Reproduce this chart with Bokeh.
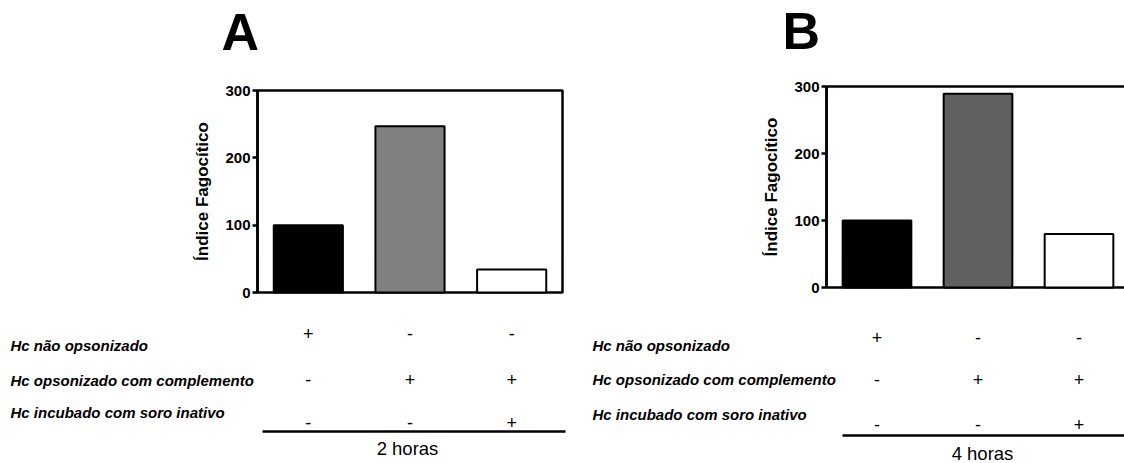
from bokeh.plotting import figure
from bokeh.models import Range1d, FixedTicker, ColumnDataSource, LinearAxis
from bokeh.core.properties import value
from bokeh.layouts import row
from bokeh.embed import file_html
from bokeh.resources import INLINE

# ---- data ----
row_labels = ["Hc não opsonizado", "Hc opsonizado com complemento", "Hc incubado com soro inativo"]
signs = [["+", "-", "-"],
         ["-", "+", "+"],
         ["-", "-", "+"]]
groups = ["G1", "G2", "G3"]
values_2h = [100, 247, 34]
values_4h = [100, 289, 80]
colors_2h = ["#000000", "#808080", "#ffffff"]
colors_4h = ["#000000", "#606060", "#ffffff"]
panel_titles = ["A", "B"]
time_labels = ["2 horas", "4 horas"]
y_ticks = [0, 100, 200, 300]
y_max = 300
y_label = "Índice Fagocítico"

FONT = "Liberation Sans"
H = 463


def make_panel(values, colors, title, time_label, g):
    L, R = g["left_edge"], g["right_edge"]
    W = R - L
    n = len(groups)
    xs = [i + 0.5 for i in range(n)]
    ppx = (g["axis_right_px"] - g["axis_px"]) / n        # pixels per x unit
    ppy = (g["zero_px"] - g["top_px"]) / y_max            # pixels per y unit

    def X(px):
        return (px - g["axis_px"]) / ppx

    def Y(py):
        return (g["zero_px"] - py) / ppy

    p = figure(width=W, height=H, output_backend="svg", toolbar_location=None,
               x_range=Range1d(X(L), X(R)), y_range=Range1d(Y(H), Y(0)),
               x_axis_location=None, y_axis_location=None, min_border=0)
    p.grid.visible = False
    p.outline_line_color = None
    p.background_fill_color = "white"
    p.border_fill_color = "white"

    # plot box
    p.quad(left=[0], right=[n], bottom=[0], top=[y_max], fill_color=None,
           line_color="black", line_width=2.5)

    src = ColumnDataSource(dict(x=xs, top=values, color=colors))
    p.vbar(x="x", top="top", bottom=0, width=0.68, source=src,
           fill_color="color", line_color="black", line_width=2)

    ya = LinearAxis(fixed_location=0, bounds=(0, y_max), ticker=FixedTicker(ticks=y_ticks))
    ya.minor_tick_line_color = None
    ya.major_tick_out = 5
    ya.major_tick_in = 0
    ya.major_tick_line_width = 2.5
    ya.major_tick_line_color = "black"
    ya.axis_line_width = 2.5
    ya.axis_line_color = "black"
    ya.major_label_text_font = FONT
    ya.major_label_text_font_style = "bold"
    ya.major_label_text_font_size = "15px"
    ya.major_label_text_color = "black"
    ya.major_label_standoff = 2
    ya.axis_label = y_label
    ya.axis_label_text_font = FONT
    ya.axis_label_text_font_style = "bold"
    ya.axis_label_text_font_size = "17px"
    ya.axis_label_text_color = "black"
    ya.axis_label_standoff = 10
    p.add_layout(ya, "left")

    # panel letter
    p.text(x=[X(g["title_x"])], y=[Y(g["title_y"])], text=[title], text_font=value(FONT),
           text_font_style="bold", text_font_size="52px", text_color="black",
           text_align="left", text_baseline="middle")

    # condition table
    p.text(x=[X(g["rowlab_x"])] * len(row_labels), y=[Y(v) for v in g["rowlab_y"]], text=row_labels,
           text_font=value(FONT), text_font_style="bold italic", text_font_size="15px",
           text_color="black", text_align="left", text_baseline="middle")
    sx, sy, st = [], [], []
    for r in range(len(row_labels)):
        for c in range(n):
            sx.append(xs[c])
            sy.append(Y(g["sign_y"][r]))
            st.append(signs[r][c])
    p.text(x=sx, y=sy, text=st, text_font=value(FONT), text_font_size="18px",
           text_color="black", text_align="center", text_baseline="middle")
    p.segment(x0=[X(g["line_x0"])], x1=[X(g["line_x1"])], y0=[Y(g["line_y"])], y1=[Y(g["line_y"])],
              line_color="black", line_width=2.5)
    p.text(x=[X(g["time_x"])], y=[Y(g["time_y"])], text=[time_label], text_font=value(FONT),
           text_font_size="18.5px", text_color="black", text_align="center", text_baseline="middle")
    return p


gA = dict(left_edge=0, right_edge=575, axis_px=257, axis_right_px=562, top_px=90, zero_px=292,
          title_x=221, title_y=31, rowlab_x=10, rowlab_y=[345, 380, 412],
          sign_y=[333, 379, 422], line_x0=262, line_x1=565, line_y=431, time_x=407, time_y=448)
gB = dict(left_edge=575, right_edge=1124, axis_px=826, axis_right_px=1129, top_px=86, zero_px=287,
          title_x=782, title_y=30, rowlab_x=592, rowlab_y=[345, 379, 414],
          sign_y=[337, 379, 424], line_x0=842, line_x1=1130, line_y=435, time_x=982, time_y=453)

pA = make_panel(values_2h, colors_2h, panel_titles[0], time_labels[0], gA)
pB = make_panel(values_4h, colors_4h, panel_titles[1], time_labels[1], gB)

layout = row(pA, pB)
open("out.html", "w").write(file_html(layout, INLINE))
